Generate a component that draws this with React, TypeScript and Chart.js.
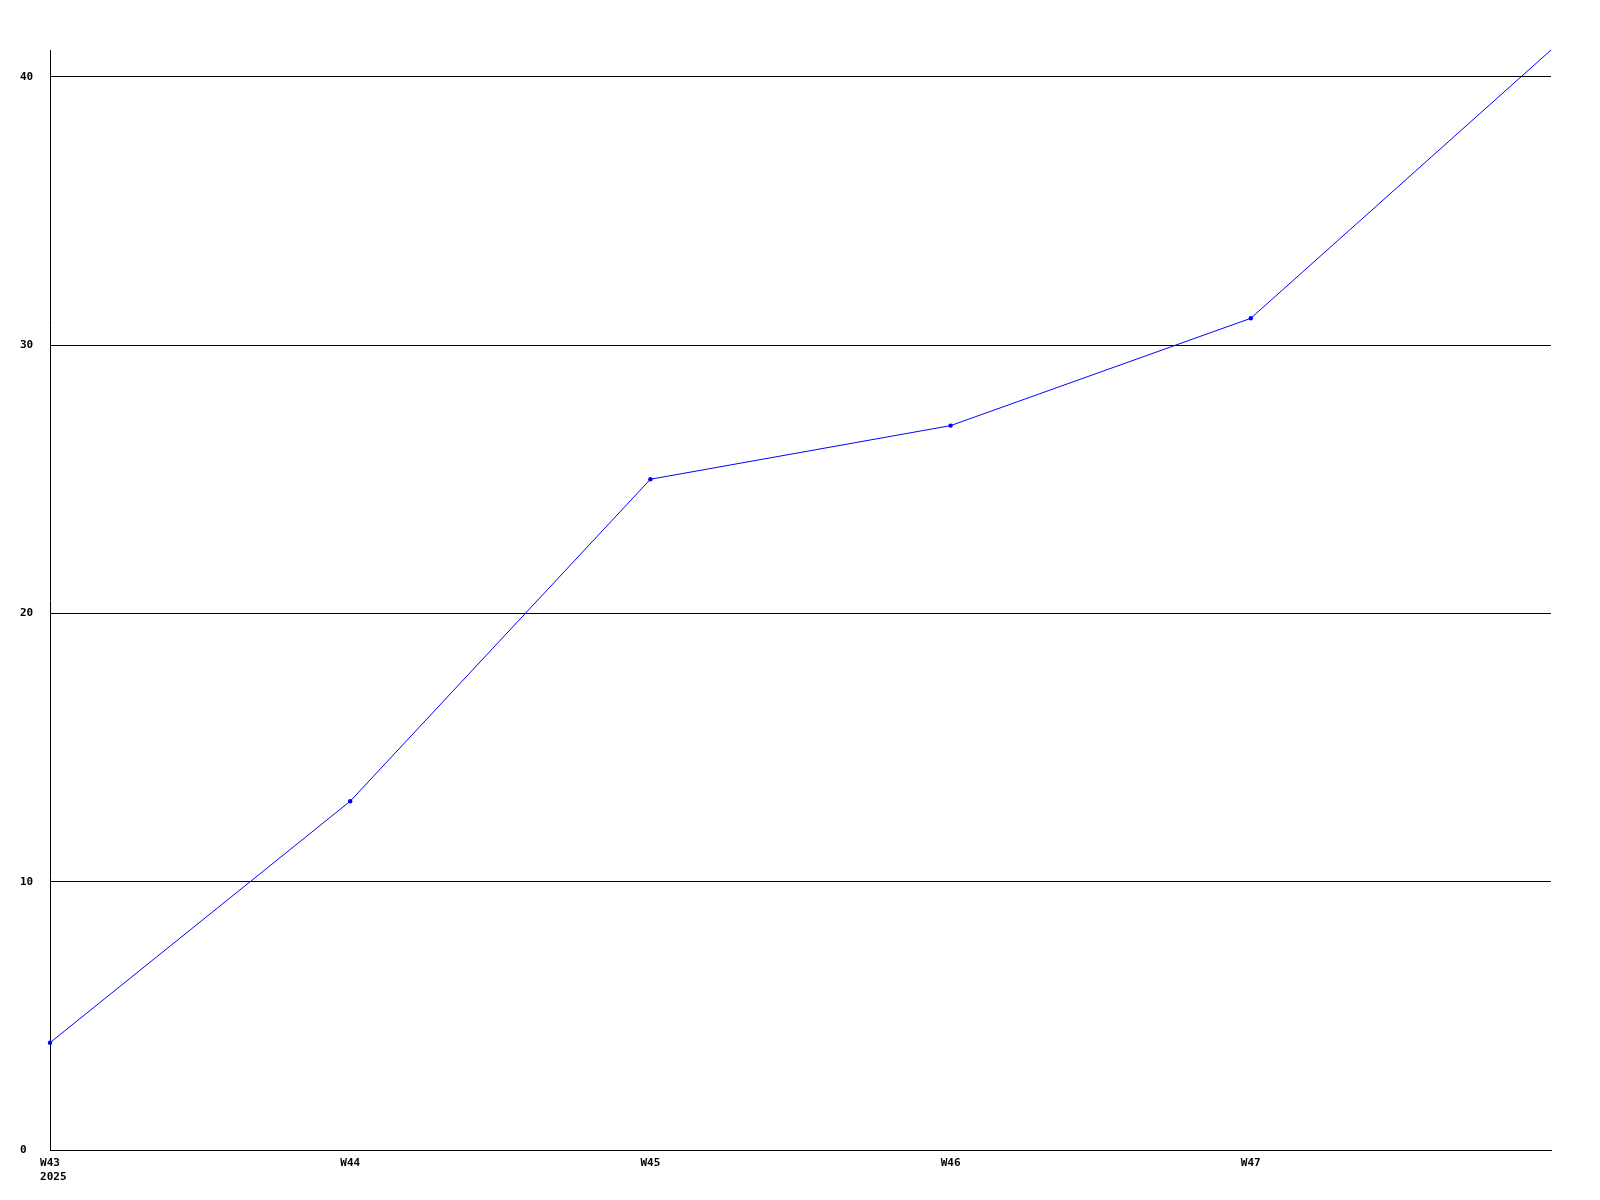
import React, { useEffect, useRef } from "react";
import { Chart, registerables } from "chart.js";

Chart.register(...registerables);

const weeks = ["W43", "W44", "W45", "W46", "W47", "W48"];
const yearLabel = "2025";
const values = [4, 13, 25, 27, 31, 41];
const yTickValues = [0, 10, 20, 30, 40];

const FONT_FAMILY = "'DejaVu Sans Mono', monospace";
const FONT = { family: FONT_FAMILY, size: 11, weight: "bold" as const, lineHeight: 1.3 };
const TICK_PAD = 6;

const yearPlugin = {
  id: "yearLabel",
  afterDraw(chart: any) {
    const xs = chart.scales.x;
    const ctx = chart.ctx;
    ctx.save();
    ctx.font = `bold ${FONT.size}px ${FONT_FAMILY}`;
    ctx.fillStyle = "#000000";
    ctx.textAlign = "left";
    ctx.textBaseline = "middle";
    const firstW = ctx.measureText(weeks[0]).width;
    const x = xs.getPixelForValue(0) - firstW / 2;
    const lh = FONT.size * FONT.lineHeight;
    const y = chart.chartArea.bottom + TICK_PAD + lh / 2 + lh;
    ctx.fillText(yearLabel, x, y);
    ctx.restore();
  },
};

export default function App() {
  const ref = useRef<HTMLCanvasElement | null>(null);
  useEffect(() => {
    if (!ref.current) return;
    const chart = new Chart(ref.current, {
      type: "line",
      data: {
        labels: weeks,
        datasets: [
          {
            data: values,
            borderColor: "#0000ff",
            backgroundColor: "#0000ff",
            borderWidth: 1,
            pointRadius: values.map((_, i) => (i === values.length - 1 ? 0 : 2.2)),
            pointBorderWidth: 0,
            pointBackgroundColor: "#0000ff",
            tension: 0,
            fill: false,
          },
        ],
      },
      options: {
        responsive: false,
        animation: false,
        devicePixelRatio: 1,
        layout: { padding: { left: 20, top: 50, right: 49, bottom: 0 } },
        plugins: { legend: { display: false }, tooltip: { enabled: false } },
        scales: {
          x: {
            offset: false,
            grid: { display: false, drawTicks: false },
            border: { display: true, color: "#000000", width: 1 },
            ticks: {
              color: "#000000",
              font: FONT,
              padding: TICK_PAD,
              maxRotation: 0,
              autoSkip: false,
              callback: function (this: any, v: any, i: number) {
                if (i === weeks.length - 1) return "";
                return weeks[i];
              },
            },
            afterFit: (s: any) => {
              s.height = 50;
            },
          },
          y: {
            min: 0,
            max: 41,
            grid: { color: "#000000", lineWidth: 1, drawTicks: false },
            border: { display: true, color: "#000000", width: 1 },
            afterBuildTicks: (s: any) => {
              s.ticks = yTickValues.map((v) => ({ value: v }));
            },
            ticks: {
              color: "#000000",
              font: FONT,
              crossAlign: "far",
              padding: 0,
            },
            afterFit: (s: any) => {
              s.width = 30;
            },
          },
        },
      },
      plugins: [yearPlugin],
    });
    return () => chart.destroy();
  }, []);
  return (
    <div style={{ position: "fixed", left: 0, top: 0, width: 1600, height: 1200, background: "#ffffff" }}>
      <canvas ref={ref} width={1600} height={1200} style={{ width: 1600, height: 1200, display: "block" }} />
    </div>
  );
}
